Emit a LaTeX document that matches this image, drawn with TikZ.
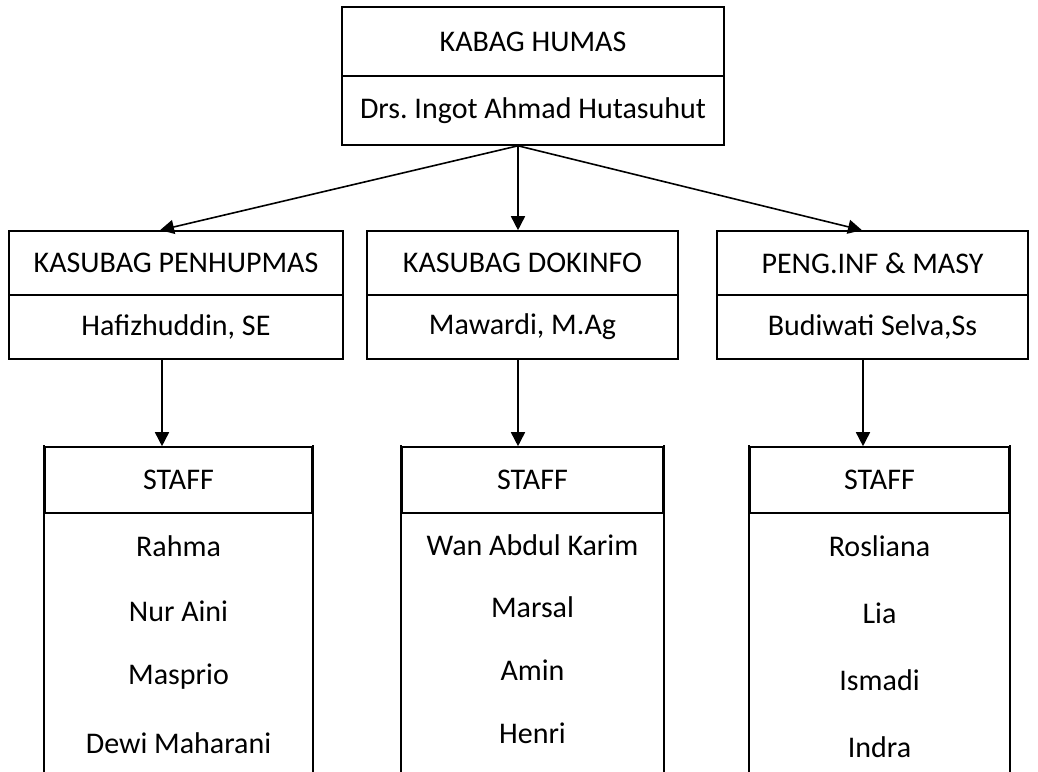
\documentclass[tikz,border=0pt]{standalone}
\usepackage{fontspec}
\setmainfont{Carlito}
\usetikzlibrary{arrows.meta}
\frenchspacing

\tikzset{
  cell/.style={draw, inner sep=0pt, line width=1.6pt},
  side/.style={line width=1.6pt, line cap=rect},
  arr/.style={line width=1.6pt, -{Triangle[length=14pt,width=14pt]}},
  member/.style={inner sep=0pt}
}

\begin{document}
\begin{tikzpicture}[x=1pt, y=-1pt, every node/.style={font=\fontsize{30}{36}\selectfont}]
	\useasboundingbox (0,0) rectangle (1038,771);

	% kabag
	\node[cell, minimum width=382, minimum height=69] (humas) at (533,41.5) {KABAG HUMAS};
	\node[cell, minimum width=382, minimum height=69] (humasnama) at (533,110.5) {Drs. Ingot Ahmad Hutasuhut};

	% kasubag
	\node[cell, minimum width=334, minimum height=64] (penhupmas) at (176,263) {KASUBAG PENHUPMAS};
	\node[cell, minimum width=334, minimum height=64] (penhupmasnama) at (176,327) {Hafizhuddin, SE};
	\node[cell, minimum width=311, minimum height=64] (dokinfo) at (522.5,263) {KASUBAG DOKINFO};
	\node[cell, minimum width=311, minimum height=64] (dokinfonama) at (522.5,327) {Mawardi, M.Ag};
	\node[cell, minimum width=311, minimum height=64] (pengmasy) at (872.5,263) {PENG.INF \& MASY};
	\node[cell, minimum width=311, minimum height=64] (pengmasynama) at (872.5,327) {Budiwati Selva,Ss};

	% staff
	\node[cell, minimum width=267, minimum height=66] (staffa) at (178.5,480) {STAFF};
	\node[cell, minimum width=261, minimum height=66] (staffb) at (532.5,480) {STAFF};
	\node[cell, minimum width=259, minimum height=66] (staffc) at (879.5,480) {STAFF};
	\draw[side] (staffa.north west) -- ++(0,330);
	\draw[side] (staffa.north east) -- ++(0,330);
	\draw[side] (staffb.north west) -- ++(0,330);
	\draw[side] (staffb.north east) -- ++(0,330);
	\draw[side] (staffc.north west) -- ++(0,330);
	\draw[side] (staffc.north east) -- ++(0,330);

	\foreach \nm/\y [count=\i] in {Rahma/546, Nur Aini/611, Masprio/677, Dewi Maharani/743}
		\node[member] (stafa\i) at (178.5,\y) {\nm};
	\foreach \nm/\y [count=\i] in {Wan Abdul Karim/545, Marsal/607, Amin/670, Henri/733}
		\node[member] (stafb\i) at (532.5,\y) {\nm};
	\foreach \nm/\y [count=\i] in {Rosliana/546, Lia/613, Ismadi/680, Indra/747}
		\node[member] (stafc\i) at (879.5,\y) {\nm};

	% arrows
	\draw[arr] ([xshift=-15pt]humasnama.south) -- ([xshift=-16pt]penhupmas.north);
	\draw[arr] ([xshift=-15pt]humasnama.south) -- ([xshift=-4.5pt]dokinfo.north);
	\draw[arr] ([xshift=-15pt]humasnama.south) -- ([xshift=-10.5pt]pengmasy.north);
	\draw[arr] ([xshift=-14pt]penhupmasnama.south) -- ([xshift=-16.5pt]staffa.north);
	\draw[arr] ([xshift=-4.5pt]dokinfonama.south) -- ([xshift=-14.5pt]staffb.north);
	\draw[arr] ([xshift=-9.5pt]pengmasynama.south) -- ([xshift=-16.5pt]staffc.north);
\end{tikzpicture}
\end{document}
